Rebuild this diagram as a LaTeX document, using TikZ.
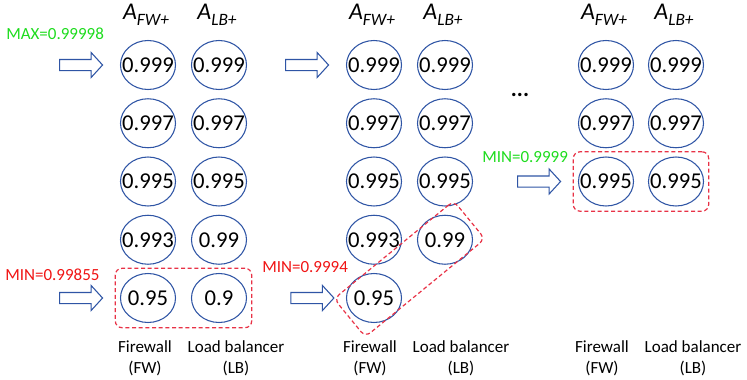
\documentclass[tikz,border=0pt]{standalone}
\usepackage{fontspec}
\setmainfont{Carlito}
\usepackage{tikz}
\usetikzlibrary{calc,fit,positioning,shapes.arrows,shapes.geometric}
\definecolor{ringblue}{RGB}{47,85,165}
\definecolor{maxgreen}{RGB}{30,220,30}
\definecolor{minred}{RGB}{240,20,20}
\definecolor{boxred}{RGB}{232,50,70}
\newcommand{\avail}[1]{A\raisebox{-4.5pt}{\fontsize{13}{15}\selectfont #1}}

\begin{document}
\begin{tikzpicture}[
  x=0.75pt, y=-0.75pt,
  font=\fontsize{17}{20}\selectfont,
  cell/.style={ellipse, draw=ringblue, line width=0.8pt, minimum width=41.25pt, minimum height=36.75pt, inner sep=0pt, label={center:#1}},
  push/.style={single arrow, draw=ringblue, fill=white, line width=0.8pt, minimum height=32.25pt, inner xsep=0pt, inner ysep=3.75pt, single arrow head extend=5.25pt, single arrow tip angle=95},
  group/.style={draw=boxred, dash pattern=on 3pt off 2pt, line width=0.9pt, rounded corners=5pt},
  head/.style={font=\fontsize{18}{21}\selectfont\itshape, anchor=base, inner sep=0pt},
  tag/.style={font=\fontsize{12.75}{15.5}\selectfont, anchor=west, inner sep=0pt},
  dev/.style={font=\fontsize{12.75}{15.75}\selectfont, align=center, inner sep=0pt}
]
\useasboundingbox (0,0) rectangle (747,379);
% first step
\foreach \fw/\lb [count=\i] in {0.999/0.999,0.997/0.997,0.995/0.995,0.993/0.99,0.95/0.9}{
  \node[cell=\fw] (g1fw\i) at (148,{65+58.25*(\i-1)}) {};
  \node[cell=\lb] (g1lb\i) at (219,{65+58.25*(\i-1)}) {};
}
% second step
\foreach \v [count=\i] in {0.999,0.997,0.995,0.993,0.95}
  \node[cell=\v] (g2fw\i) at (374,{65+58.25*(\i-1)}) {};
\foreach \v [count=\i] in {0.999,0.997,0.995,0.99}
  \node[cell=\v] (g2lb\i) at (445,{65+58.25*(\i-1)}) {};
% last step
\foreach \v [count=\i] in {0.999,0.997,0.995}{
  \node[cell=\v] (g3fw\i) at (606,{65+58.25*(\i-1)}) {};
  \node[cell=\v] (g3lb\i) at (676,{65+58.25*(\i-1)}) {};
}
\node[head] (g1hfw) at (146,19) {\avail{FW+}};
\node[head] (g1hlb) at (217,19) {\avail{LB+}};
\node[head] (g2hfw) at (372,19) {\avail{FW+}};
\node[head] (g2hlb) at (443,19) {\avail{LB+}};
\node[head] (g3hfw) at (604,19) {\avail{FW+}};
\node[head] (g3hlb) at (674,19) {\avail{LB+}};
\node[font=\fontsize{17}{20}\selectfont\bfseries] (gap) at (520,95) {...};

\node[push, left=12.5pt of g1fw1] (g1in) {};
\node[push, left=12.5pt of g1fw5] (g1out) {};
\node[push, left=12.5pt of g2fw1] (g2in) {};
\node[push, left=8.5pt of g2fw5] (g2out) {};
\node[push, left=12.5pt of g3fw3] (g3out) {};

\node[tag, text=maxgreen] (g1max) at (6,34) {MAX=0.99998};
\node[tag, text=minred] (g1min) at (5,275) {MIN=0.99855};
\node[tag, text=minred] (g2min) at (262,267) {MIN=0.9994};
\node[tag, text=maxgreen] (g3min) at (482,157) {MIN=0.9999};

\node[group, fit=(g1fw5)(g1lb5), inner sep=3.5pt] (g1box) {};
\node[group, rotate=39.3, minimum width=116pt, minimum height=37pt] (g2box) at ($(g2fw5)!0.5!(g2lb4)$) {};
\node[group, fit=(g3fw3)(g3lb3), inner sep=3.5pt] (g3box) {};

\node[dev] (g1fwname) at (145,358) {Firewall\\(FW)};
\node[dev] (g1lbname) at (236,358) {Load balancer\\(LB)};
\node[dev] (g2fwname) at (370,358) {Firewall\\(FW)};
\node[dev] (g2lbname) at (461,358) {Load balancer\\(LB)};
\node[dev] (g3fwname) at (602,358) {Firewall\\(FW)};
\node[dev] (g3lbname) at (693,358) {Load balancer\\(LB)};
\end{tikzpicture}
\end{document}
